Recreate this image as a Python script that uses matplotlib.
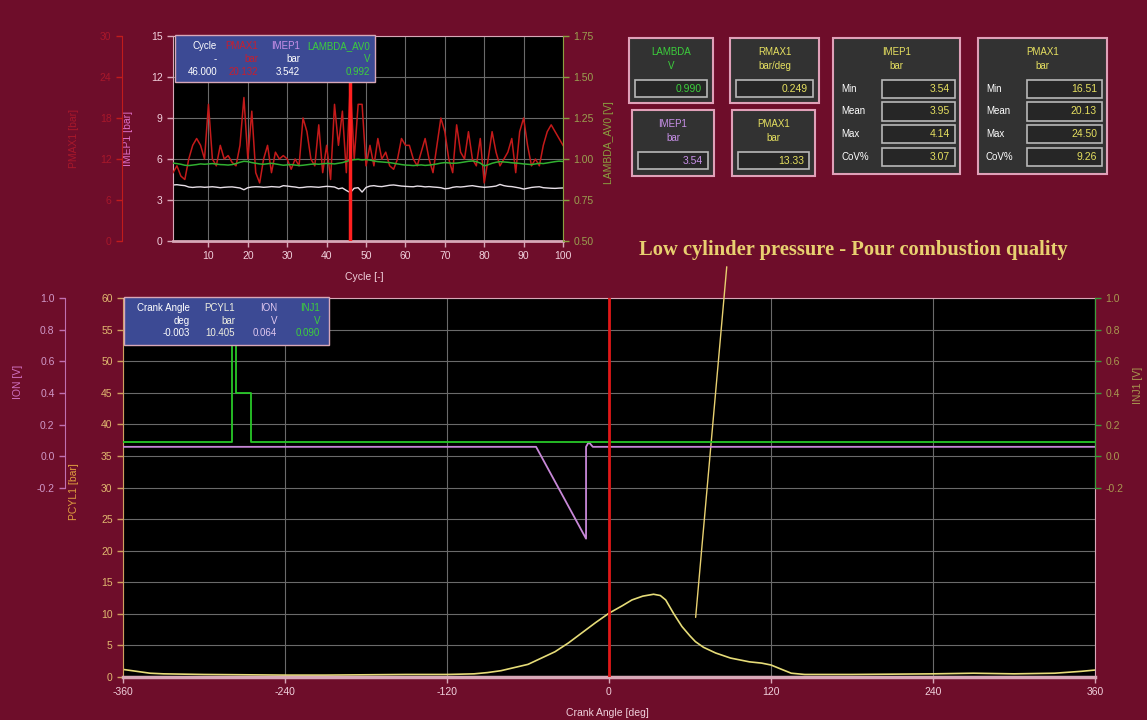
import numpy as np
import matplotlib
matplotlib.use("Agg")
import matplotlib.pyplot as plt
from matplotlib.patches import Rectangle

# ---------------------------------------------------------------
# data
# ---------------------------------------------------------------
cycles = np.arange(1, 101)

pmax_bar = [10, 11, 9.5, 9, 12, 14, 15, 14, 12, 20,
            12, 11, 14, 12, 12.5, 11.5, 11, 14, 21, 12,
            19, 10, 8.5, 12, 14, 10, 13, 12, 12.5, 12,
            10.5, 12, 11, 18, 16, 12, 11, 17, 10, 14,
            9, 20, 14, 19, 10, 23, 12, 20, 20, 11,
            14, 11, 15, 12, 13, 11, 10.5, 12, 15, 14,
            14, 12, 11, 13, 15, 12, 10, 14, 18, 16,
            12, 10, 17, 13, 12, 16, 12, 11, 15, 8.5,
            12, 16, 13, 11, 12, 13, 15, 10, 16, 18,
            14, 11, 12, 11, 14, 16, 17, 16, 15, 14]

imep_bar = [4.10, 4.12, 4.08, 4.05, 3.95, 3.92, 3.95, 3.96, 3.93, 3.95,
            3.97, 3.94, 3.90, 3.93, 3.95, 3.96, 3.92, 3.88, 3.75, 3.90,
            3.95, 3.97, 3.96, 3.93, 3.95, 3.98, 3.96, 3.94, 4.05, 4.02,
            3.98, 3.95, 3.90, 3.92, 3.96, 3.97, 3.95, 3.93, 3.97, 4.00,
            3.98, 3.95, 3.82, 3.88, 3.70, 3.54, 3.86, 3.90, 3.58, 3.92,
            4.02, 4.05, 4.00, 3.98, 4.03, 4.08, 4.10, 4.06, 4.02, 4.00,
            3.98, 3.97, 4.02, 4.00, 3.96, 3.98, 3.95, 3.93, 3.90, 3.82,
            3.85, 3.93, 3.97, 3.95, 3.98, 4.02, 4.05, 4.00, 3.96, 3.93,
            3.95, 3.98, 4.02, 4.14, 4.05, 4.00, 3.98, 3.93, 3.88, 3.80,
            3.86, 3.92, 3.95, 3.97, 3.90, 3.88, 3.86, 3.85, 3.87, 3.88]

lambda_v = [0.975, 0.972, 0.968, 0.962, 0.960, 0.963, 0.966, 0.970, 0.968, 0.970,
            0.972, 0.969, 0.966, 0.965, 0.963, 0.966, 0.972, 0.980, 0.986, 0.984,
            0.978, 0.974, 0.970, 0.968, 0.971, 0.974, 0.970, 0.966, 0.962, 0.964,
            0.966, 0.963, 0.960, 0.962, 0.965, 0.968, 0.970, 0.968, 0.971, 0.973,
            0.972, 0.970, 0.974, 0.978, 0.985, 0.992, 0.996, 0.998, 0.994, 0.997,
            0.993, 0.988, 0.984, 0.982, 0.980, 0.978, 0.974, 0.970, 0.966, 0.963,
            0.962, 0.960, 0.962, 0.964, 0.961, 0.963, 0.966, 0.970, 0.975, 0.978,
            0.976, 0.974, 0.975, 0.978, 0.982, 0.986, 0.988, 0.984, 0.975, 0.958,
            0.965, 0.974, 0.980, 0.984, 0.982, 0.980, 0.977, 0.975, 0.973, 0.970,
            0.968, 0.966, 0.970, 0.974, 0.972, 0.976, 0.980, 0.984, 0.987, 0.985]

cursor_cycle = 46

# crank angle traces
pcyl_deg = [-360, -350, -340, -330, -300, -270, -240, -210, -180, -150, -120,
            -100, -90, -80, -70, -60, -50, -40, -30, -20, -10, 0, 10, 17, 25,
            33, 38, 42, 48, 54, 60, 64, 70, 79, 90, 104, 113, 120, 128, 135,
            145, 180, 210, 240, 270, 300, 330, 350, 360]
pcyl_bar = [1.2, 0.9, 0.6, 0.5, 0.4, 0.35, 0.3, 0.3, 0.35, 0.4, 0.4,
            0.5, 0.7, 1.0, 1.5, 2.0, 3.0, 4.0, 5.4, 7.0, 8.6, 10.1, 11.3, 12.2, 12.8,
            13.1, 12.9, 12.2, 10.0, 8.0, 6.5, 5.6, 4.7, 3.8, 3.0, 2.4, 2.2, 1.9, 1.2, 0.6,
            0.4, 0.4, 0.45, 0.5, 0.6, 0.5, 0.6, 0.9, 1.1]

ion_deg = [-360, -54, -17, -17, -15, -12, 360]
ion_v = [0.06, 0.06, -0.52, 0.06, 0.09, 0.06, 0.06]

inj_deg = [-360, -279, -279, -276, -276, -265, -265, 360]
inj_v = [0.09, 0.09, 1.0, 1.0, 0.40, 0.40, 0.09, 0.09]

cursor_deg = 0

# top right readouts
single_titles = [("LAMBDA", "V"), ("RMAX1", "bar/deg"), ("IMEP1", "bar"), ("PMAX1", "bar")]
single_values = ["0.990", "0.249", "3.54", "13.33"]
single_colors = ["#3ccf3c", "#e6e060", "#c890e8", "#e6e060"]

stat_labels = ["Min", "Mean", "Max", "CoV%"]
imep_stats = ["3.54", "3.95", "4.14", "3.07"]
pmax_stats = ["16.51", "20.13", "24.50", "9.26"]

# ---------------------------------------------------------------
# figure set-up (pixel based layout)
# ---------------------------------------------------------------
W, H = 1147, 720
BG = "#6e0d2a"
PINK = "#d8a8b8"
GRID = "#6a6a6a"
plt.rcParams["font.family"] = ["Liberation Sans", "DejaVu Sans"]
plt.rcParams["axes.unicode_minus"] = False

fig = plt.figure(figsize=(W / 100, H / 100), dpi=100, facecolor=BG)


def px_rect(x0, y0, x1, y1):
    return [x0 / W, 1 - y1 / H, (x1 - x0) / W, (y1 - y0) / H]


def fig_box(x0, y0, x1, y1, face, edge, lw=1.2, z=10):
    fig.add_artist(Rectangle((x0 / W, 1 - y1 / H), (x1 - x0) / W, (y1 - y0) / H,
                             transform=fig.transFigure, facecolor=face,
                             edgecolor=edge, linewidth=lw, zorder=z))


def fig_txt(x, y, s, color="white", size=7.5, ha="right", **kw):
    fig.text(x / W, 1 - y / H, s, color=color, fontsize=size, ha=ha,
             va="center", zorder=30, **kw)


def style_ticks(ax, axis, color, labelcolor):
    ax.tick_params(axis=axis, colors=color, labelcolor=labelcolor,
                   labelsize=7.5, length=4, width=1, direction="out")


# ---------------------------------------------------------------
# upper plot: cycle based values
# ---------------------------------------------------------------
ax1 = fig.add_axes(px_rect(173, 36, 563, 241))
ax1.set_facecolor("black")
ax1.set_xlim(1, 100)
ax1.set_ylim(0, 15)
ax1.set_xticks(np.arange(10, 101, 10))
ax1.set_yticks(np.arange(0, 16, 3))
ax1.grid(color=GRID, lw=0.8)
ax1.plot(cycles, imep_bar, color="#e8e0e8", lw=1.0)
for side in ["top", "bottom", "left"]:
    ax1.spines[side].set_color(PINK)
ax1.spines["bottom"].set_linewidth(2)
ax1.spines["right"].set_visible(False)
style_ticks(ax1, "both", PINK, "#f0d0dc")
ax1.set_xlabel("Cycle [-]", color="#f0d0dc", fontsize=7.5)
ax1.xaxis.set_label_coords(0.49, -0.15)
ax1.set_ylabel("IMEP1 [bar]", color="#e070c8", fontsize=7.5)
ax1.yaxis.set_label_coords(-0.103, 0.5)

ax_pmax = ax1.twinx()
ax_pmax.set_ylim(0, 30)
ax_pmax.set_yticks(np.arange(0, 31, 6))
ax_pmax.yaxis.tick_left()
ax_pmax.yaxis.set_label_position("left")
ax_pmax.spines["left"].set_visible(True)
ax_pmax.spines["left"].set_position(("axes", -0.131))
ax_pmax.spines["left"].set_color("#c01c1c")
for side in ["top", "bottom", "right"]:
    ax_pmax.spines[side].set_visible(False)
style_ticks(ax_pmax, "y", "#c01c1c", "#a8182a")
ax_pmax.plot(cycles, pmax_bar, color="#c41a1a", lw=1.1)
ax_pmax.set_ylabel("PMAX1 [bar]", color="#a8182a", fontsize=7.5)
ax_pmax.yaxis.set_label_coords(-0.241, 0.5)

ax_lam = ax1.twinx()
ax_lam.set_ylim(0.5, 1.75)
ax_lam.set_yticks(np.arange(0.5, 1.76, 0.25))
ax_lam.yaxis.set_major_formatter(matplotlib.ticker.FormatStrFormatter("%.2f"))
for side in ["top", "bottom", "left"]:
    ax_lam.spines[side].set_visible(False)
ax_lam.spines["right"].set_color("#8aa040")
style_ticks(ax_lam, "y", "#8aa040", "#9aa050")
ax_lam.plot(cycles, lambda_v, color="#30b030", lw=1.1)
ax_lam.axvline(cursor_cycle, color="#ff2020", lw=2.5)
ax_lam.set_ylabel("LAMBDA_AV0 [V]", color="#8aa040", fontsize=7.5)
ax_lam.yaxis.set_label_coords(1.105, 0.48)

# readout box of the upper plot
fig_box(175, 35, 375, 82, "#3c4a94", PINK, lw=1.0, z=20)
top_cols = [217, 258, 300, 370]
top_rows = [[("Cycle", "white"), ("PMAX1", "#c81e2e"), ("IMEP1", "#c890e8"), ("LAMBDA_AV0", "#3ccf3c")],
            [("-", "white"), ("bar", "#c81e2e"), ("bar", "white"), ("V", "#3ccf3c")],
            [("46.000", "white"), ("20.132", "#c81e2e"), ("3.542", "white"), ("0.992", "#3ccf3c")]]
for r, row in enumerate(top_rows):
    for c, (s, col) in enumerate(row):
        fig_txt(top_cols[c], 46 + r * 13, s, color=col, size=7)

# ---------------------------------------------------------------
# lower plot: crank angle based traces
# ---------------------------------------------------------------
ax2 = fig.add_axes(px_rect(123, 298, 1095, 677))
ax2.set_facecolor("black")
ax2.set_xlim(-360, 360)
ax2.set_ylim(0, 60)
ax2.set_xticks(np.arange(-360, 361, 120))
ax2.set_yticks(np.arange(0, 61, 5))
ax2.grid(color=GRID, lw=0.8)
ax2.plot(pcyl_deg, pcyl_bar, color="#e6dc78", lw=1.2)
ax2.spines["left"].set_color("#d0a060")
for side in ["top", "bottom", "right"]:
    ax2.spines[side].set_color(PINK)
ax2.spines["bottom"].set_linewidth(2.5)
style_ticks(ax2, "y", "#d0a060", "#e0b870")
style_ticks(ax2, "x", PINK, "#f0d0dc")
ax2.set_xlabel("Crank Angle [deg]", color="#f0d0dc", fontsize=7.5)
ax2.xaxis.set_label_coords(0.498, -0.083)
ax2.set_ylabel("PCYL1 [bar]", color="#e0a040", fontsize=7.5)
ax2.yaxis.set_label_coords(-0.045, 0.49)

# ION / INJ share a scale where 0.2 V lines up with 5 bar
v_top, v_tick_lo = 1.0, -0.2
v_bottom = v_top - (v_top - v_tick_lo) * (677 - 298) / (488 - 298)

ax_ion = ax2.twinx()
ax_ion.set_ylim(v_bottom, v_top)
ax_ion.set_yticks(np.round(np.arange(-0.2, 1.01, 0.2), 1))
ax_ion.yaxis.tick_left()
ax_ion.yaxis.set_label_position("left")
ax_ion.spines["left"].set_visible(True)
ax_ion.spines["left"].set_position(("axes", (65 - 123) / 972))
ax_ion.spines["left"].set_bounds(-0.2, 1.0)
ax_ion.spines["left"].set_color("#c070b0")
for side in ["top", "bottom", "right"]:
    ax_ion.spines[side].set_visible(False)
style_ticks(ax_ion, "y", "#c070b0", "#d098c8")
ax_ion.plot(ion_deg, ion_v, color="#c888d8", lw=1.3)
ax_ion.set_ylabel("ION [V]", color="#d070c0", fontsize=7.5)
ax_ion.yaxis.set_label_coords(-0.103, 0.78)

ax_inj = ax2.twinx()
ax_inj.set_ylim(v_bottom, v_top)
ax_inj.set_yticks(np.round(np.arange(-0.2, 1.01, 0.2), 1))
for side in ["top", "bottom", "left"]:
    ax_inj.spines[side].set_visible(False)
ax_inj.spines["right"].set_bounds(-0.2, 1.0)
ax_inj.spines["right"].set_color("#3aa03a")
style_ticks(ax_inj, "y", "#3aa03a", "#a89850")
ax_inj.plot(inj_deg, inj_v, color="#28c828", lw=1.3)
ax_inj.axvline(cursor_deg, color="#e01818", lw=2.0)
ax_inj.set_ylabel("INJ1 [V]", color="#a89850", fontsize=7.5)
ax_inj.yaxis.set_label_coords(1.039, 0.77)

# readout box of the lower plot
fig_box(124, 297, 329, 345, "#3c4a94", PINK, lw=1.0, z=20)
bot_cols = [190, 235, 277, 320]
bot_rows = [[("Crank Angle", "white"), ("PCYL1", "#f0f0e0"), ("ION", "#e0c8f0"), ("INJ1", "#3ccf3c")],
            [("deg", "white"), ("bar", "#f0f0e0"), ("V", "#e0c8f0"), ("V", "#3ccf3c")],
            [("-0.003", "white"), ("10.405", "#f0f0e0"), ("0.064", "#e0c8f0"), ("0.090", "#3ccf3c")]]
for r, row in enumerate(bot_rows):
    for c, (s, col) in enumerate(row):
        fig_txt(bot_cols[c], 308 + r * 12.5, s, color=col, size=7)

# annotation
fig.text(853 / W, 1 - 250 / H, "Low cylinder pressure - Pour combustion quality",
         family=["Liberation Serif", "DejaVu Serif"], fontweight="bold",
         fontsize=14.8, color="#e8d070", ha="center", va="center")
ax2.annotate("", xy=(64, 9.0), xytext=(727 / W, 1 - 264 / H),
             textcoords="figure fraction", annotation_clip=False,
             arrowprops=dict(arrowstyle="-", color="#e8d070", lw=1.0))

# ---------------------------------------------------------------
# readout panels, top right
# ---------------------------------------------------------------
PANEL = "#323232"
VALBOX = "#262626"
single_pos = [(629, 38, 713, 103), (730, 38, 819, 103), (632, 110, 714, 176), (732, 110, 815, 176)]
for (x0, y0, x1, y1), (t1, t2), val, col in zip(single_pos, single_titles, single_values, single_colors):
    fig_box(x0, y0, x1, y1, PANEL, "#e0a0b8", lw=1.5)
    xc = (x0 + x1) / 2
    fig_txt(xc, y0 + 14, t1, color=col, size=7, ha="center")
    fig_txt(xc, y0 + 28, t2, color=col, size=7, ha="center")
    fig_box(x0 + 6, y0 + 42, x1 - 6, y0 + 59, VALBOX, "#b8b8b8", lw=1.2)
    fig_txt(x1 - 11, y0 + 50.5, val, color=col, size=7.5)

stat_pos = [((833, 38, 960, 174), 882, "IMEP1", imep_stats),
            ((978, 38, 1107, 174), 1027, "PMAX1", pmax_stats)]
for (x0, y0, x1, y1), vx0, name, vals in stat_pos:
    fig_box(x0, y0, x1, y1, PANEL, "#e0a0b8", lw=1.5)
    xc = (x0 + x1) / 2
    fig_txt(xc, y0 + 14, name, color="#e6e060", size=7, ha="center")
    fig_txt(xc, y0 + 28, "bar", color="#e6e060", size=7, ha="center")
    for i, (lab, v) in enumerate(zip(stat_labels, vals)):
        yc = 89 + i * 22.5
        fig_txt(x0 + 8, yc, lab, color="white", size=7, ha="left")
        fig_box(vx0, yc - 9, x1 - 5, yc + 9, VALBOX, "#b8b8b8", lw=1.2)
        fig_txt(x1 - 10, yc, v, color="#e6e060", size=7.5)

fig.savefig("out.png", dpi=100, facecolor=BG)
